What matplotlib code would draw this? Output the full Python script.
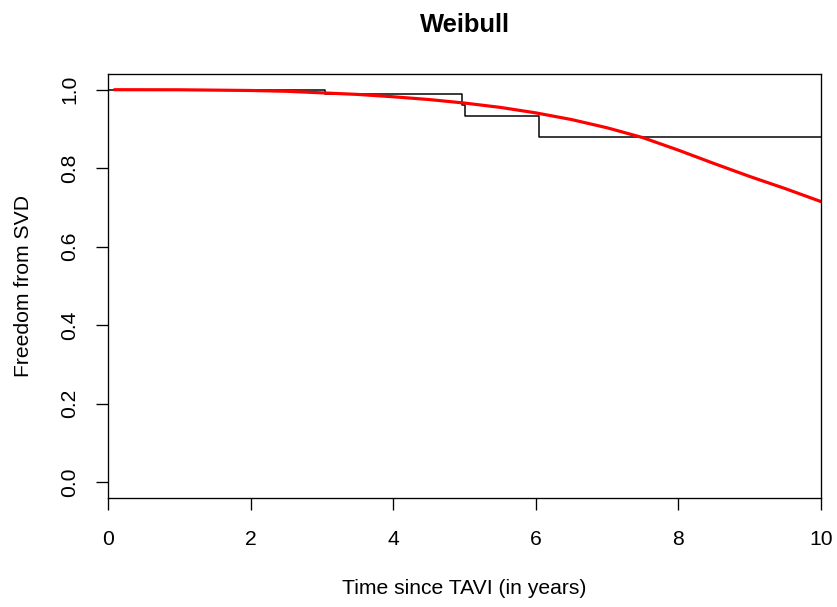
import matplotlib
matplotlib.use("Agg")
import matplotlib.pyplot as plt

plt.rcParams['font.family'] = ['Liberation Sans', 'DejaVu Sans']

# Kaplan-Meier estimate (step function)
km_time = [0.0, 3.04, 4.97, 5.0, 6.04, 10.0]
km_surv = [1.0, 0.989, 0.962, 0.934, 0.879, 0.879]

# Weibull fit, values
wb_time = [0.1, 1.0, 2.0, 2.5, 3.0, 3.5, 4.0, 4.5, 5.0, 5.5, 6.0, 6.5,
           7.0, 7.5, 8.0, 8.5, 9.0, 9.5, 10.0]
wb_surv = [1.0, 0.9998, 0.998, 0.996, 0.992, 0.988, 0.982, 0.975, 0.966,
           0.955, 0.941, 0.924, 0.903, 0.878, 0.846, 0.812, 0.779, 0.748, 0.715]

x_ticks = [0, 2, 4, 6, 8, 10]
y_ticks = [0.0, 0.2, 0.4, 0.6, 0.8, 1.0]

fs = 12.7

fig = plt.figure(figsize=(837 / 120, 607 / 120), dpi=120)
ax = fig.add_axes([108 / 837, 1 - 498 / 607, 713 / 837, 424 / 607])

ax.step(km_time, km_surv, where='post', color='black', lw=0.9)
ax.plot(wb_time, wb_surv, color='red', lw=1.9)

ax.set_xlim(0, 10)
ax.set_ylim(-0.04, 1.04)
ax.set_xticks(x_ticks)
ax.set_xticklabels([str(v) for v in x_ticks])
ax.set_yticks(y_ticks)
ax.set_yticklabels([f"{v:.1f}" for v in y_ticks], rotation=90, va='center')
ax.tick_params(length=7.2, width=0.8, labelsize=fs)
ax.tick_params(axis='x', pad=12)
ax.tick_params(axis='y', pad=10)

for s in ax.spines.values():
    s.set_linewidth(0.8)

ax.set_xlabel("Time since TAVI (in years)", fontsize=fs, labelpad=18)
ax.set_ylabel("Freedom from SVD", fontsize=fs, labelpad=16.5)
fig.text(0.5 * (108 + 821) / 837, 1 - 25 / 607, "Weibull", fontsize=15.3,
         fontweight='bold', ha='center', va='center')

fig.savefig("out.png", dpi=120)
